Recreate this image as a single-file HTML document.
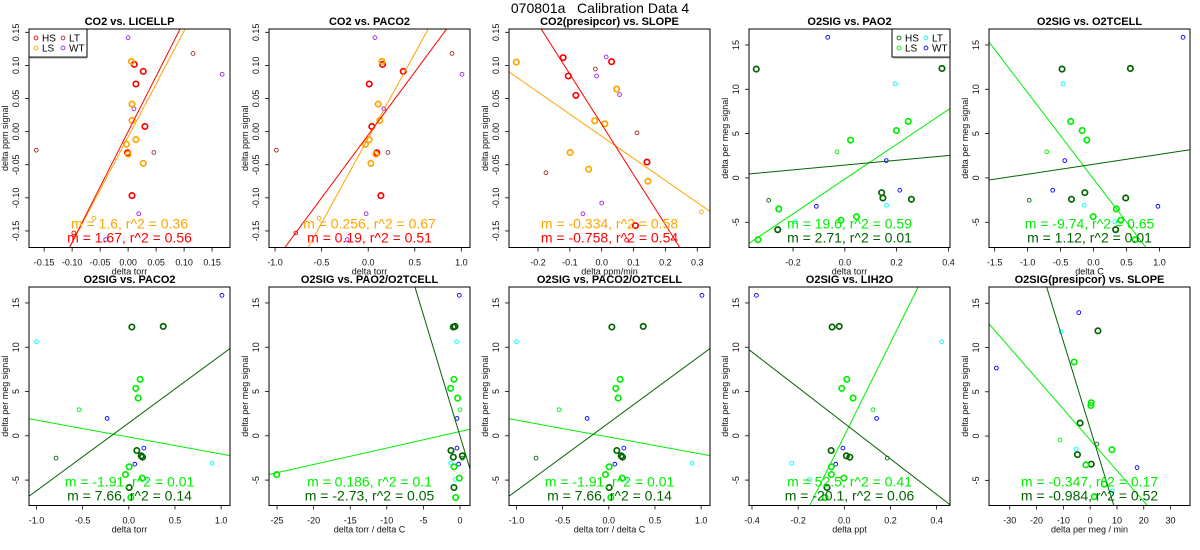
<!DOCTYPE html>
<html><head><meta charset="utf-8">
<style>
html,body{margin:0;padding:0;background:#fff;width:1200px;height:550px;overflow:hidden;}
svg{display:block;font-family:"Liberation Sans",Arial,sans-serif;}
</style></head>
<body>
<svg id="chart" width="1200" height="550" viewBox="0 0 1200 550" xmlns="http://www.w3.org/2000/svg">
<text x="600" y="13" text-anchor="middle" font-size="14">070801a&#160;&#160;&#160;Calibration Data 4</text>
</svg>
<script>
// ---------- shared y values ----------
const co2HSy=[0.1016,0.091,0.0719,0.0078,-0.032,-0.0966];
const co2HSsy=[-0.153];
const co2LSy=[0.106,0.0416,0.017,-0.012,-0.019,-0.034,-0.048];
const co2LSsy=[-0.131];
const co2LTy=[-0.028,0.118,-0.0315];
const co2WTy=[0.142,0.0346,0.0865,-0.124,-0.163];
const o2HSy=[12.28,12.35,-1.66,-2.26,-2.41,-5.84];
const o2HSsy=[-2.52];
const o2LSy=[6.37,5.35,4.26,-3.5,-4.37,-4.78,-6.97];
const o2LSsy=[2.94];
const o2LTy=[10.62,-3.09,-4.93];
const o2WTy=[15.86,1.96,-1.39,-3.2];
// ---------- panel 1 ----------
const p1HSx=[0.011,0.027,0.014,0.030,-0.001,0.007];
const p1HSsx=[-0.097];
const p1LSx=[0.006,0.007,0.007,0.014,-0.003,0.000,0.027];
const p1LSsx=[-0.061];
const p1LTx=[-0.164,0.116,0.046];
const p1WTx=[0.0,0.0104,0.168,0.019,-0.040];
// ---------- panel 2 ----------
const p2HSx=[0.154,0.376,0.011,0.039,0.093,0.136];
const p2HSsx=[-0.778];
const p2LSx=[0.147,0.108,0.125,0.011,-0.029,0.082,0.029];
const p2LSsx=[-0.527];
const p2LTx=[-0.986,0.90,0.211];
const p2WTx=[0.072,0.168,1.007,-0.022,-0.226];
// ---------- panel 3 ----------
const p3HSx=[-0.121,-0.105,-0.081,0.031,0.142,0.106];
const p3HSy=[0.1117,0.084,0.0547,0.1056,-0.046,-0.142];
const p3HSsx=[0.078]; const p3HSsy=[-0.164];
const p3LSx=[-0.268,0.047,-0.022,0.010,-0.099,-0.041,0.145];
const p3LSy=[0.105,0.0643,0.0164,0.0118,-0.0315,-0.0568,-0.075];
const p3LSsx=[0.313]; const p3LSsy=[-0.121];
const p3LTx=[-0.020,0.111,-0.175]; const p3LTy=[0.0945,-0.0018,-0.062];
const p3WTx=[0.014,-0.016,0.056,0.0,-0.059]; const p3WTy=[0.1127,0.084,0.056,-0.108,-0.124];
// ---------- panel 4 ----------
const p4HSx=[-0.342,0.375,0.142,0.147,0.257,-0.259];
const p4HSsx=[-0.294];
const p4LSx=[0.245,0.199,0.022,-0.255,0.045,-0.015,-0.335];
const p4LSsx=[-0.030];
const p4LTx=[0.194,0.161,-0.191];
const p4WTx=[-0.066,0.160,0.212,-0.110];
// ---------- panel 5 ----------
const p5HSx=[-0.478,0.559,-0.132,0.488,-0.335,0.335];
const p5HSsx=[-0.976];
const p5LSx=[-0.346,-0.173,-0.102,0.346,-0.005,0.412,0.630];
const p5LSsx=[-0.711];
const p5LTx=[-0.462,-0.142,0.325];
const p5WTx=[1.357,-0.437,-0.620,0.976];
// ---------- panel 6 & 8 ----------
const p6HSx=[0.033,0.373,0.087,0.134,0.148,0.004];
const p6HSsx=[-0.788];
const p6LSx=[0.123,0.076,0.101,0.004,-0.036,0.145,0.022];
const p6LSsx=[-0.539];
const p6LTx=[-1.0,0.901,0.203];
const p6WTx=[1.009,-0.235,0.163,0.065];
// ---------- panel 7 ----------
const p7HSx=[-0.91,-0.68,-1.23,0.32,-0.91,-0.82];
const p7HSsx=[0.32];
const p7LSx=[-0.82,-1.28,-0.32,-0.82,-25.05,-0.09,-0.59];
const p7LSsx=[0];
const p7LTx=[-0.46,-1.28,-0.64];
const p7WTx=[-0.09,-0.41,-0.41,-0.18];
// ---------- panel 9 ----------
const p9HSx=[-0.053,-0.022,-0.057,0.009,0.024,-0.075];
const p9HSsx=[0.186];
const p9LSx=[0.011,-0.011,0.038,-0.056,-0.056,-0.002,-0.083];
const p9LSsx=[0.124];
const p9LTx=[0.422,-0.228,-0.151];
const p9WTx=[-0.381,0.140,-0.006,-0.037];
// ---------- panel 10 ----------
const p10HSx=[2.9,-3.75,-4.75,0.4]; const p10HSy=[11.88,1.47,-2.1,-3.17];
const p10HSsx=[2.5]; const p10HSsy=[-0.91];
const p10LSx=[-6,0.4,0.25,8.1,-1.6,5.25,1.5]; const p10LSy=[8.36,3.76,3.45,-1.54,-3.25,-5.43,-6.85];
const p10LSsx=[-11.25]; const p10LSsy=[-0.44];
const p10LTx=[-10.9,-5.25,8.25]; const p10LTy=[11.8,-1.47,-6.22];
const p10WTx=[-4.25,-35,17.5]; const p10WTy=[13.94,7.68,-3.56];
// ---------- fits: [slope, intercept] ----------
const fitSlopes=[[1.6,1.67],[0.256,0.19],[-0.334,-0.758],[19.6,2.71],[-9.74,1.12],[-1.91,7.66],[0.186,-2.73],[-1.91,7.66],[52.5,-20.1],[-0.347,-0.984]];
const fitIntercepts=[[-0.008,0.0],[-0.010,-0.005],[-0.007,0.011],[-0.13,1.45],[-0.12,1.54],[-0.14,1.46],[0.48,0.0],[-0.14,1.46],[0.0,1.42],[-0.43,0.84]];
const fitLabels=[["m = 1.6, r^2 = 0.36","m = 1.67, r^2 = 0.56"],["m = 0.256, r^2 = 0.67","m = 0.19, r^2 = 0.51"],["m = -0.334, r^2 = 0.58","m = -0.758, r^2 = 0.54"],["m = 19.6, r^2 = 0.59","m = 2.71, r^2 = 0.01"],["m = -9.74, r^2 = 0.65","m = 1.12, r^2 = 0.01"],["m = -1.91, r^2 = 0.01","m = 7.66, r^2 = 0.14"],["m = 0.186, r^2 = 0.1","m = -2.73, r^2 = 0.05"],["m = -1.91, r^2 = 0.01","m = 7.66, r^2 = 0.14"],["m = 52.5, r^2 = 0.41","m = -20.1, r^2 = 0.06"],["m = -0.347, r^2 = 0.17","m = -0.984, r^2 = 0.52"]];
// ---------- tick labels ----------
const co2YTicks=[-0.15,-0.10,-0.05,0.00,0.05,0.10,0.15];
const o2YTicks=[-5,0,5,10,15];
const xTicks1=[-0.15,-0.10,-0.05,0.00,0.05,0.10,0.15];
const xTicksTorr=[-1.0,-0.5,0.0,0.5,1.0];
const xTicks3=[-0.2,-0.1,0.0,0.1,0.2,0.3];
const xTicks4=[-0.2,0.0,0.2,0.4];
const xTicks5=[-1.5,-1.0,-0.5,0.0,0.5,1.0];
const xTicks7=[-25,-20,-15,-10,-5,0];
const xTicks9=[-0.4,-0.2,0.0,0.2,0.4];
const xTicks10=[-30,-20,-10,0,10,20,30];

const CO2C={HS:"#FF0000",LS:"#FFA500",LT:"#A52A2A",WT:"#A020F0"};
const O2C={HS:"#006400",LS:"#00EE00",LT:"#00FFFF",WT:"#0000FF"};

const panels=[
 {t:"CO2 vs. LICELLP",xl:"delta torr",yl:"delta ppm signal",xr:[-0.177,0.182],yr:[-0.175,0.155],xt:xTicks1,xd:2,yt:co2YTicks,yd:2,c:CO2C,leg:"left",
  s:{HS:[p1HSx,co2HSy],HSs:[p1HSsx,co2HSsy],LS:[p1LSx,co2LSy],LSs:[p1LSsx,co2LSsy],LT:[p1LTx,co2LTy],WT:[p1WTx,co2WTy]}},
 {t:"CO2 vs. PACO2",xl:"delta torr",yl:"delta ppm signal",xr:[-1.065,1.093],yr:[-0.175,0.155],xt:xTicksTorr,xd:1,yt:co2YTicks,yd:2,c:CO2C,
  s:{HS:[p2HSx,co2HSy],HSs:[p2HSsx,co2HSsy],LS:[p2LSx,co2LSy],LSs:[p2LSsx,co2LSsy],LT:[p2LTx,co2LTy],WT:[p2WTx,co2WTy]}},
 {t:"CO2(presipcor) vs. SLOPE",xl:"delta ppm/min",yl:"delta ppm signal",xr:[-0.291,0.340],yr:[-0.175,0.155],xt:xTicks3,xd:1,yt:co2YTicks,yd:2,c:CO2C,
  s:{HS:[p3HSx,p3HSy],HSs:[p3HSsx,p3HSsy],LS:[p3LSx,p3LSy],LSs:[p3LSsx,p3LSsy],LT:[p3LTx,p3LTy],WT:[p3WTx,p3WTy]}},
 {t:"O2SIG vs. PAO2",xl:"delta torr",yl:"delta per meg signal",xr:[-0.370,0.406],yr:[-7.85,16.8],xt:xTicks4,xd:1,yt:o2YTicks,yd:0,c:O2C,leg:"right",
  s:{HS:[p4HSx,o2HSy],HSs:[p4HSsx,o2HSsy],LS:[p4LSx,o2LSy],LSs:[p4LSsx,o2LSsy],LT:[p4LTx,o2LTy],WT:[p4WTx,o2WTy]}},
 {t:"O2SIG vs. O2TCELL",xl:"delta C",yl:"delta per meg signal",xr:[-1.586,1.463],yr:[-7.85,16.8],xt:xTicks5,xd:1,yt:o2YTicks,yd:0,c:O2C,
  s:{HS:[p5HSx,o2HSy],HSs:[p5HSsx,o2HSsy],LS:[p5LSx,o2LSy],LSs:[p5LSsx,o2LSsy],LT:[p5LTx,o2LTy],WT:[p5WTx,o2WTy]}},
 {t:"O2SIG vs. PACO2",xl:"delta torr",yl:"delta per meg signal",xr:[-1.081,1.096],yr:[-7.87,16.8],xt:xTicksTorr,xd:1,yt:o2YTicks,yd:0,c:O2C,
  s:{HS:[p6HSx,o2HSy],HSs:[p6HSsx,o2HSsy],LS:[p6LSx,o2LSy],LSs:[p6LSsx,o2LSsy],LT:[p6LTx,o2LTy],WT:[p6WTx,o2WTy]}},
 {t:"O2SIG vs. PAO2/O2TCELL",xl:"delta torr / delta C",yl:"delta per meg signal",xr:[-26.1,1.37],yr:[-7.87,16.8],xt:xTicks7,xd:0,yt:o2YTicks,yd:0,c:O2C,
  s:{HS:[p7HSx,o2HSy],HSs:[p7HSsx,o2HSsy],LS:[p7LSx,o2LSy],LSs:[p7LSsx,o2LSsy],LT:[p7LTx,o2LTy],WT:[p7WTx,o2WTy]}},
 {t:"O2SIG vs. PACO2/O2TCELL",xl:"delta torr / delta C",yl:"delta per meg signal",xr:[-1.081,1.096],yr:[-7.87,16.8],xt:xTicksTorr,xd:1,yt:o2YTicks,yd:0,c:O2C,
  s:{HS:[p6HSx,o2HSy],HSs:[p6HSsx,o2HSsy],LS:[p6LSx,o2LSy],LSs:[p6LSsx,o2LSsy],LT:[p6LTx,o2LTy],WT:[p6WTx,o2WTy]}},
 {t:"O2SIG vs. LIH2O",xl:"delta ppt",yl:"delta per meg signal",xr:[-0.413,0.458],yr:[-7.87,16.8],xt:xTicks9,xd:1,yt:o2YTicks,yd:0,c:O2C,
  s:{HS:[p9HSx,o2HSy],HSs:[p9HSsx,o2HSsy],LS:[p9LSx,o2LSy],LSs:[p9LSsx,o2LSsy],LT:[p9LTx,o2LTy],WT:[p9WTx,o2WTy]}},
 {t:"O2SIG(presipcor) vs. SLOPE",xl:"delta per meg / min",yl:"delta per meg signal",xr:[-37.75,37.25],yr:[-7.84,16.83],xt:xTicks10,xd:0,yt:o2YTicks,yd:0,c:O2C,
  s:{HS:[p10HSx,p10HSy],HSs:[p10HSsx,p10HSsy],LS:[p10LSx,p10LSy],LSs:[p10LSsx,p10LSsy],LT:[p10LTx,p10LTy],WT:[p10WTx,p10WTy]}}
];

const NS="http://www.w3.org/2000/svg";
const svg=document.getElementById("chart");
function mk(tag,attrs,parent){const e=document.createElementNS(NS,tag);for(const k in attrs)e.setAttribute(k,attrs[k]);(parent||svg).appendChild(e);return e;}

panels.forEach((p,i)=>{
  const col=i%5,row=Math.floor(i/5);
  const L=29+240*col,R=L+201,T=29+258*row,B=T+218.5;
  const sx=v=>L+(v-p.xr[0])/(p.xr[1]-p.xr[0])*(R-L);
  const sy=v=>B-(v-p.yr[0])/(p.yr[1]-p.yr[0])*(B-T);
  const g=mk("g",{});
  
  
  const clipId="clip"+i;
  const cp=mk("clipPath",{id:clipId},g);mk("rect",{x:L,y:T,width:R-L,height:B-T},cp);
  const tt=mk("text",{x:(L+R)/2,y:T-4,"text-anchor":"middle","font-size":"11","font-weight":"bold"},g);tt.textContent=p.t;
  
  
  p.xt.forEach(v=>{
    const x=sx(v);
    mk("line",{x1:x,x2:x,y1:B,y2:B+4,stroke:"#000","stroke-width":"0.8"},g);
    const t=mk("text",{x:x,y:B+18,"text-anchor":"middle","font-size":"9",fill:"#111"},g);
    t.textContent=v.toFixed(p.xd);
    
    
  });
  const xl=mk("text",{x:(L+R)/2,y:B+27,"text-anchor":"middle","font-size":"9",fill:"#111"},g);xl.textContent=p.xl;
  
  
  p.yt.forEach(v=>{
    const y=sy(v);
    mk("line",{x1:L-4,x2:L,y1:y,y2:y,stroke:"#000","stroke-width":"0.8"},g);
    const t=mk("text",{x:0,y:0,"text-anchor":"middle","font-size":"9",fill:"#111",transform:`translate(${L-10},${y}) rotate(-90)`},g);
    t.textContent=v.toFixed(p.yd);
    
    
  });
  const yl=mk("text",{x:0,y:0,"text-anchor":"middle","font-size":"9",fill:"#111",transform:`translate(${L-21},${(T+B)/2}) rotate(-90)`},g);yl.textContent=p.yl;
  
  
  const pg=mk("g",{"clip-path":`url(#${clipId})`},g);
  [["LT",false],["WT",false],["HSs",false],["LSs",false],["HS",true],["LS",true]].forEach(([k,big])=>{
    const colr=p.c[k.replace("s","")];
    const [xs,ys]=p.s[k];
    xs.forEach((xv,j)=>{
      const c=mk("circle",{cx:sx(xv),cy:sy(ys[j]),r:big?2.7:1.9,fill:"none",stroke:colr,"stroke-width":big?1.7:0.9},pg);
      
      
    });
  });
  [[0,p.c.LS],[1,p.c.HS]].forEach(([k,colr])=>{
    const m=fitSlopes[i][k],b=fitIntercepts[i][k];
    const ln=mk("line",{x1:sx(p.xr[0]),y1:sy(m*p.xr[0]+b),x2:sx(p.xr[1]),y2:sy(m*p.xr[1]+b),stroke:colr,"stroke-width":"1"},pg);
    
    
  });
  [[0,p.c.LS,B-19],[1,p.c.HS,B-5]].forEach(([k,colr,y])=>{
    const t=mk("text",{x:(L+R)/2,y:y,"text-anchor":"middle","font-size":"14",fill:colr},g);
    t.textContent=fitLabels[i][k];
    
    
  });
  mk("rect",{x:L,y:T,width:R-L,height:B-T,fill:"none",stroke:"#000","stroke-width":"1"},g);
  if(p.leg){
    const lx=p.leg==="left"?L:R-58,ly=T;
    const lg=mk("g",{},g);
    
    
    mk("rect",{x:lx,y:ly,width:58,height:28,fill:"#fff",stroke:"#000","stroke-width":"1"},lg);
    mk("line",{x1:lx+1,x2:lx+58,y1:ly+28.5,y2:ly+28.5,stroke:"#555","stroke-width":"1.5"},lg);
    [["HS",0,0],["LS",0,1],["LT",1,0],["WT",1,1]].forEach(([k,cx,cy])=>{
      const ex=lx+7+cx*27,ey=ly+9+cy*10;
      mk("circle",{cx:ex,cy:ey,r:1.9,fill:"none",stroke:p.c[k],"stroke-width":"0.9"},lg);
      const t=mk("text",{x:ex+6,y:ey+3.5,"font-size":"10",fill:"#000"},lg);
      t.textContent=k;
      
      
    });
  }
});
</script>
</body></html>
